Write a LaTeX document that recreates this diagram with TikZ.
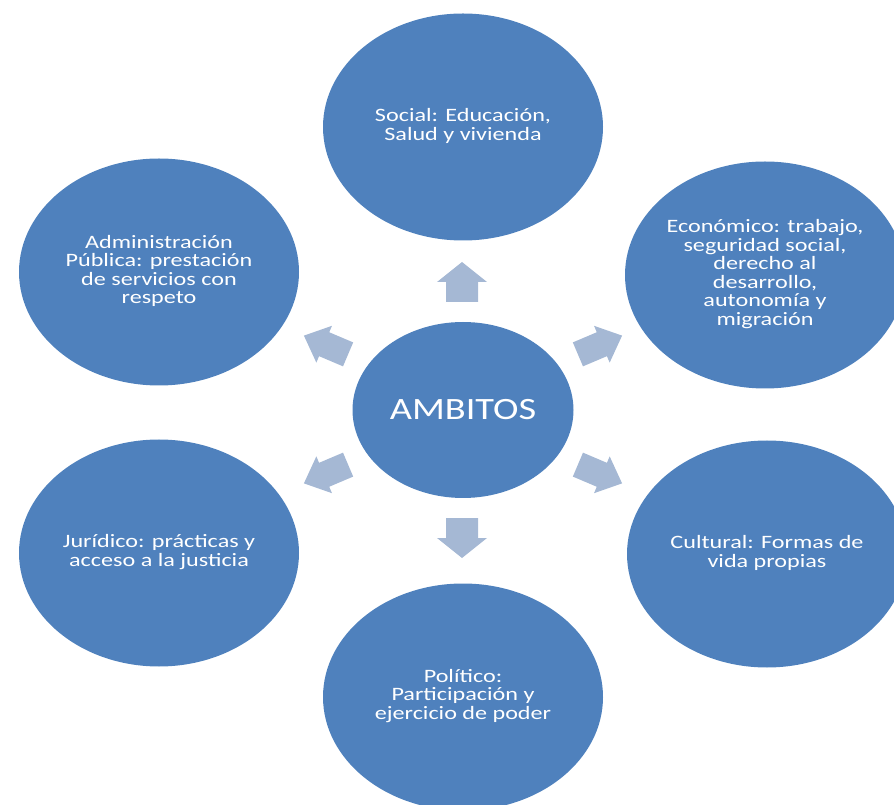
\documentclass[tikz,border=0pt]{standalone}
\usepackage{fontspec}
\setmainfont{Carlito}
\usepackage{graphicx}
\usetikzlibrary{shapes.geometric}
\definecolor{ovalblue}{HTML}{4F81BD}
\definecolor{arrowblue}{HTML}{A5B8D4}
\newcommand\ltxt[1]{\scalebox{1.15}[0.9]{\fontsize{21}{20}\selectfont\begin{tabular}{@{}c@{}}#1\end{tabular}}}
\newcommand\btxt[1]{\scalebox{1.2}[0.97]{\fontsize{32}{34}\selectfont #1}}
\tikzset{
  oval/.style={ellipse, fill=ovalblue, draw=none, inner sep=0pt, text=white,
    minimum width=280pt, minimum height=227pt},
  blockarrow/.style={fill=arrowblue, draw=none}
}
\begin{document}
\begin{tikzpicture}[x=1pt,y=1pt]
\useasboundingbox (0,0) rectangle (894,804);
\clip (0,0) rectangle (894,804);
\node[oval] (social) at (463,677) {\ltxt{Social: Educación,\\Salud y vivienda}};
\node[oval] (economico) at (765,529) {\ltxt{Económico: trabajo,\\seguridad social,\\derecho al\\desarrollo,\\autonomía y\\migración}};
\node[oval] (admin) at (159,532) {\ltxt{Administración\\Pública: prestación\\de servicios con\\respeto}};
\node[oval] (juridico) at (159,251) {\ltxt{Jurídico: prácticas y\\acceso a la justicia}};
\node[oval] (cultural) at (767,250) {\ltxt{Cultural: Formas de\\vida propias}};
\node[oval] (politico) at (463,107) {\ltxt{Político:\\Participación y\\ejercicio de poder}};
\node[oval, minimum width=221pt, minimum height=176pt] (ambitos) at (463,394) {\btxt{AMBITOS}};
% vertical block arrows
\foreach \cx/\cy/\ang in {462/522/90, 462/266/270}{
  \fill[blockarrow, shift={(\cx,\cy)}, rotate=\ang]
    (-20,-16) -- (0,-16) -- (0,-25) -- (20,0) -- (0,25) -- (0,16) -- (-20,16) -- cycle;
}
% diagonal block arrows
\foreach \cx/\cy/\ang in {326/459/157, 600/459/23, 600/330/-23, 326/330/203}{
  \fill[blockarrow, shift={(\cx,\cy)}, rotate=\ang]
    (-24,-13) -- (2,-13) -- (2,-20) -- (24,0) -- (2,20) -- (2,13) -- (-24,13) -- cycle;
}
\end{tikzpicture}
\end{document}
